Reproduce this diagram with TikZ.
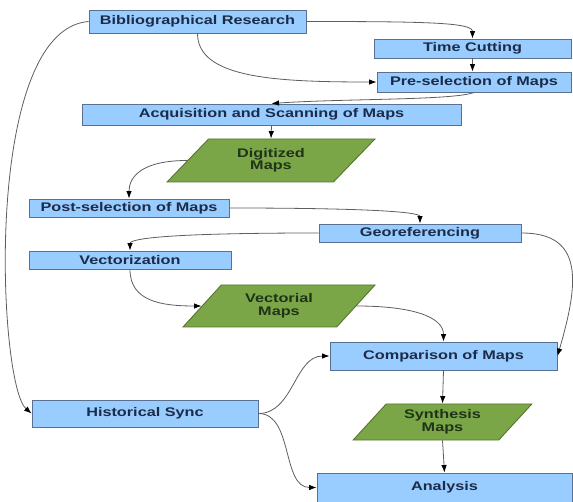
\documentclass[tikz,border=0pt]{standalone}
\usepackage{fontspec}
\newfontfamily\labfont[FakeStretch=1.3]{Liberation Sans}
\usetikzlibrary{shapes.geometric,arrows.meta}
\definecolor{boxblue}{HTML}{99CCFF}
\definecolor{boxedge}{HTML}{5A7090}
\definecolor{parafill}{HTML}{7BA648}
\definecolor{paraedge}{HTML}{55752F}
\definecolor{txtblue}{HTML}{1C2B48}
\definecolor{txtgreen}{HTML}{1E3318}
\definecolor{linegray}{HTML}{5E5E5E}
\tikzset{
  proc/.style={draw=boxedge, fill=boxblue, line width=0.9pt, inner sep=0pt,
    text=txtblue, font=\labfont\bfseries\fontsize{12.5}{13}\selectfont},
  databox/.style={trapezium, trapezium stretches=true, trapezium left angle=47,
    trapezium right angle=133, draw=paraedge, fill=parafill, line width=0.9pt,
    inner sep=0pt, align=center, text=txtgreen,
    font=\labfont\bfseries\fontsize{12.5}{12.5}\selectfont},
  conn/.style={draw=linegray, line width=0.8pt,
    -{Latex[length=7.5pt,width=5.5pt,color=black]}}
}
\begin{document}
\begin{tikzpicture}[x=1pt,y=-1pt]
\useasboundingbox (0,0) rectangle (573,502);
% process boxes
\node[proc, minimum width=217, minimum height=23] (bib) at (197.5,21.5) {Bibliographical Research};
\node[proc, minimum width=197, minimum height=19] (time) at (472.5,48.5) {Time Cutting};
\node[proc, minimum width=194, minimum height=20] (pre) at (474,82) {Pre-selection of Maps};
\node[proc, minimum width=379, minimum height=21] (acq) at (271.5,114.5) {Acquisition and Scanning of Maps};
\node[databox, minimum width=208, minimum height=43] (dig) at (271,160.5) {Digitized\\Maps};
\node[proc, minimum width=200, minimum height=18] (post) at (129,208) {Post-selection of Maps};
\node[proc, minimum width=202, minimum height=18] (geo) at (420,233) {Georeferencing};
\node[proc, minimum width=202, minimum height=18] (vec) at (130,260) {Vectorization};
\node[databox, minimum width=192, minimum height=42] (vmap) at (279,306) {Vectorial\\Maps};
\node[proc, minimum width=227, minimum height=28] (comp) at (443.5,356) {Comparison of Maps};
\node[proc, minimum width=226, minimum height=27] (hist) at (145,413.5) {Historical Sync};
\node[databox, minimum width=179, minimum height=36] (syn) at (442.5,422) {Synthesis\\Maps};
\node[proc, minimum width=255, minimum height=29] (ana) at (444.5,487.5) {Analysis};
% connectors
\draw[conn] (bib.east) .. controls +(120,0) and +(0,-16) .. (time.north);
\draw[conn] (bib.south) .. controls +(0,45) and +(-100,0) .. (pre.west);
\draw[conn] (time.south) -- (time.south |- pre.north);
\draw[conn] (pre.south) .. controls +(-20,8) and +(70,-5) .. (acq.north);
\draw[conn] (acq.south) -- (dig.north);
\draw[conn] (dig.west) .. controls +(-45,0) and +(0,-22) .. (post.north);
\draw[conn] (post.east) .. controls +(130,0) and +(0,-12) .. (geo.north);
\draw[conn] (geo.west) .. controls +(-150,0) and +(0,-12) .. (vec.north);
\draw[conn] (vec.south) .. controls +(0,32) and +(-40,0) .. (vmap.west);
\draw[conn] (vmap.east) .. controls +(55,0) and +(0,-25) .. (comp.north);
\draw[conn] (geo.east) .. controls +(62,0) and +(22,-75) .. (comp.east);
\draw[conn] (bib.west) .. controls (-18,30) and (-2,385) .. (hist.west);
\draw[conn] (hist.east) .. controls +(35,0) and +(-35,0) .. (comp.west);
\draw[conn] (hist.east) .. controls +(35,0) and +(-35,0) .. (ana.west);
\draw[conn] (comp.south) -- (syn.north);
\draw[conn] (syn.south) -- (ana.north);
\end{tikzpicture}
\end{document}
